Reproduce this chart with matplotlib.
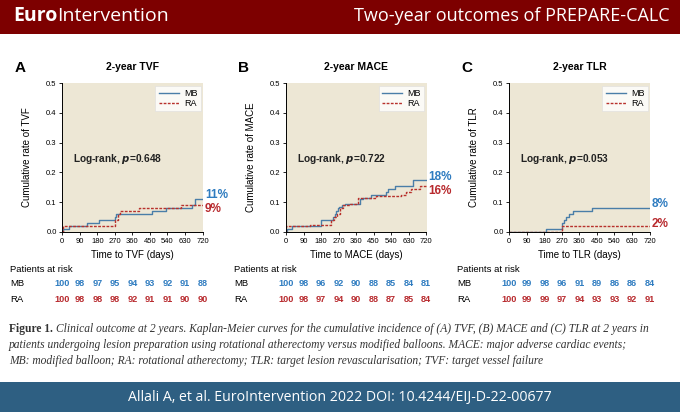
import matplotlib
matplotlib.use('Agg')
import matplotlib.pyplot as plt
from matplotlib.transforms import blended_transform_factory
from matplotlib.patches import Rectangle

NARROW = ['Liberation Sans Narrow', 'Liberation Sans', 'DejaVu Sans']
plt.rcParams['font.family'] = NARROW

# ---- data ----
day_ticks = [0, 90, 180, 270, 360, 450, 540, 630, 720]

tvf_mb_t = [0, 5, 35, 129, 190, 270, 276, 461, 530, 667, 680, 720]
tvf_mb_y = [0, 0.01, 0.02, 0.03, 0.04, 0.05, 0.06, 0.07, 0.08, 0.09, 0.11, 0.11]
tvf_ra_t = [0, 2, 270, 285, 298, 392, 607, 720]
tvf_ra_y = [0, 0.02, 0.04, 0.06, 0.07, 0.08, 0.09, 0.09]

mace_mb_t = [0, 5, 30, 180, 242, 250, 259, 266, 273, 288, 302, 379, 396, 438, 511, 525, 558, 652, 720]
mace_mb_y = [0, 0.01, 0.02, 0.04, 0.05, 0.06, 0.07, 0.08, 0.085, 0.09, 0.095, 0.11, 0.115, 0.125,
             0.135, 0.145, 0.155, 0.175, 0.175]
mace_ra_t = [0, 2, 125, 230, 245, 260, 276, 293, 328, 369, 460, 592, 618, 643, 690, 720]
mace_ra_y = [0, 0.02, 0.025, 0.04, 0.05, 0.06, 0.08, 0.09, 0.095, 0.115, 0.12, 0.125, 0.135,
             0.145, 0.155, 0.155]

tlr_mb_t = [0, 186, 270, 279, 290, 305, 325, 425, 720]
tlr_mb_y = [0, 0.01, 0.03, 0.04, 0.05, 0.06, 0.07, 0.08, 0.08]
tlr_ra_t = [0, 270, 720]
tlr_ra_y = [0, 0.02, 0.02]

panel_letters = ['A', 'B', 'C']
panel_titles = ['2-year TVF', '2-year MACE', '2-year TLR']
endpoints = ['TVF', 'MACE', 'TLR']
p_values = ['0.648', '0.722', '0.053']
mb_final = ['11%', '18%', '8%']
ra_final = ['9%', '16%', '2%']
mb_label_y = [0.123, 0.186, 0.093]
ra_label_y = [0.076, 0.139, 0.028]

risk_mb = [[100, 98, 97, 95, 94, 93, 92, 91, 88],
           [100, 98, 96, 92, 90, 88, 85, 84, 81],
           [100, 99, 98, 96, 91, 89, 86, 86, 84]]
risk_ra = [[100, 98, 98, 98, 92, 91, 91, 90, 90],
           [100, 98, 97, 94, 90, 88, 87, 85, 84],
           [100, 99, 99, 97, 94, 93, 93, 92, 91]]

curves = [(tvf_mb_t, tvf_mb_y, tvf_ra_t, tvf_ra_y),
          (mace_mb_t, mace_mb_y, mace_ra_t, mace_ra_y),
          (tlr_mb_t, tlr_mb_y, tlr_ra_t, tlr_ra_y)]

BEIGE = '#ede7d5'
MB_LINE = '#4a7ea8'
RA_LINE = '#b8312c'
MB_TEXT = '#2f7cc0'
RA_TEXT = '#b82a2e'

W, H = 680, 412
fig = plt.figure(figsize=(6.8, 4.12), dpi=100)
fig.patch.set_facecolor('white')
renderer = fig.canvas.get_renderer()

# header and footer bands
fig.add_artist(Rectangle((0, 1 - 34 / H), 1, 34 / H, transform=fig.transFigure,
                         facecolor='#7d0000', edgecolor='none'))
fig.add_artist(Rectangle((0, 0), 1, 30 / H, transform=fig.transFigure,
                         facecolor='#2e5f82', edgecolor='none'))
hdr_font = ['Open Sans', 'DejaVu Sans']
euro = fig.text(13 / W, 1 - 16 / H, 'Euro', color='white', fontsize=14, fontweight='bold',
                family=hdr_font, va='center', ha='left')
ext = euro.get_window_extent(renderer)
fig.text(ext.x1 / W, 1 - 16 / H, 'Intervention', color='white', fontsize=14,
         family=hdr_font, va='center', ha='left')
fig.text(670 / W, 1 - 16 / H, 'Two-year outcomes of PREPARE-CALC', color='white',
         fontsize=13, family=hdr_font, va='center', ha='right')
fig.text(0.5, 15 / H, 'Allali A, et al. EuroIntervention 2022 DOI: 10.4244/EIJ-D-22-00677',
         color='white', fontsize=10.2, family=hdr_font, va='center', ha='center')

lefts = [62.3, 286.0, 509.3]
for i in range(3):
    ax = fig.add_axes([lefts[i] / W, 1 - 232 / H, 141 / W, 149 / H])
    ax.set_facecolor(BEIGE)
    mb_t, mb_y, ra_t, ra_y = curves[i]
    ax.step(mb_t, mb_y, where='post', color=MB_LINE, lw=1.0, label='MB')
    ax.step(ra_t, ra_y, where='post', color=RA_LINE, lw=1.0, linestyle=(0, (2, 1)), label='RA')
    ax.set_xlim(0, 724)
    ax.set_ylim(0, 0.5)
    ax.set_xticks(day_ticks)
    ax.set_yticks([0, 0.1, 0.2, 0.3, 0.4, 0.5])
    ax.set_yticklabels(['0.0', '0.1', '0.2', '0.3', '0.4', '0.5'])
    ax.tick_params(labelsize=5.5, length=2.5, width=0.6, pad=1.5)
    for s in ['top', 'right']:
        ax.spines[s].set_visible(False)
    for s in ['left', 'bottom']:
        ax.spines[s].set_linewidth(0.7)
    ax.spines['bottom'].set_bounds(0, 720)
    ax.set_ylabel('Cumulative rate of ' + endpoints[i], fontsize=7, labelpad=10)
    ax.set_xlabel('Time to ' + endpoints[i] + ' (days)', fontsize=7, labelpad=4)
    ax.set_title(panel_titles[i], fontsize=7.5, fontweight='bold', pad=9)
    ax.text(-0.34, 1.10, panel_letters[i], transform=ax.transAxes, fontsize=11,
            fontweight='bold', va='center')
    leg = ax.legend(loc='upper right', fontsize=6.5, frameon=True, fancybox=False,
                    handlelength=2.2, borderpad=0.35, labelspacing=0.15,
                    borderaxespad=0.3, handletextpad=0.6)
    leg.get_frame().set_facecolor('white')
    leg.get_frame().set_edgecolor('#dddddd')
    leg.get_frame().set_linewidth(0.5)
    ax.text(55, 0.245, r'Log-rank, $\mathbfit{p}$=' + p_values[i], fontsize=7.3,
            fontweight='bold', va='center', ha='left', color='#222222')
    ax.text(732, mb_label_y[i], mb_final[i], color=MB_TEXT, fontsize=8.5,
            fontweight='bold', va='center', ha='left', clip_on=False)
    ax.text(732, ra_label_y[i], ra_final[i], color=RA_TEXT, fontsize=8.5,
            fontweight='bold', va='center', ha='left', clip_on=False)

    tr = blended_transform_factory(ax.transData, fig.transFigure)
    x0 = (lefts[i] - 52) / W
    fig.text(x0, 1 - 270 / H, 'Patients at risk', fontsize=6.8, va='center', ha='left')
    fig.text(x0, 1 - 284 / H, 'MB', fontsize=6.8, va='center', ha='left')
    fig.text(x0, 1 - 299 / H, 'RA', fontsize=6.8, va='center', ha='left')
    for d, nm, nr in zip(day_ticks, risk_mb[i], risk_ra[i]):
        ax.text(d, 1 - 284 / H, str(nm), transform=tr, color=MB_TEXT, fontsize=6.6,
                fontweight='bold', ha='center', va='center')
        ax.text(d, 1 - 299 / H, str(nr), transform=tr, color=RA_TEXT, fontsize=6.6,
                fontweight='bold', ha='center', va='center')

# caption
serif = ['Liberation Serif', 'DejaVu Serif']
cap_col = '#333333'
cap_fs = 8.3
fig_lbl = fig.text(9 / W, 1 - 329 / H, 'Figure 1.', fontsize=cap_fs, fontweight='bold',
                   family=serif, color=cap_col, va='center', ha='left')
lx = fig_lbl.get_window_extent(renderer).x1 + 3
fig.text(lx / W, 1 - 329 / H,
         'Clinical outcome at 2 years. Kaplan-Meier curves for the cumulative incidence of (A) TVF, '
         '(B) MACE and (C) TLR at 2 years in', fontsize=cap_fs, style='italic', family=serif,
         color=cap_col, va='center', ha='left')
fig.text(9 / W, 1 - 345 / H,
         'patients undergoing lesion preparation using rotational atherectomy versus modified '
         'balloons. MACE: major adverse cardiac events;', fontsize=cap_fs, style='italic',
         family=serif, color=cap_col, va='center', ha='left')
fig.text(9 / W, 1 - 361 / H,
         'MB: modified balloon; RA: rotational atherectomy; TLR: target lesion revascularisation; '
         'TVF: target vessel failure', fontsize=cap_fs, style='italic', family=serif,
         color=cap_col, va='center', ha='left')

fig.savefig('out.png', dpi=100)
